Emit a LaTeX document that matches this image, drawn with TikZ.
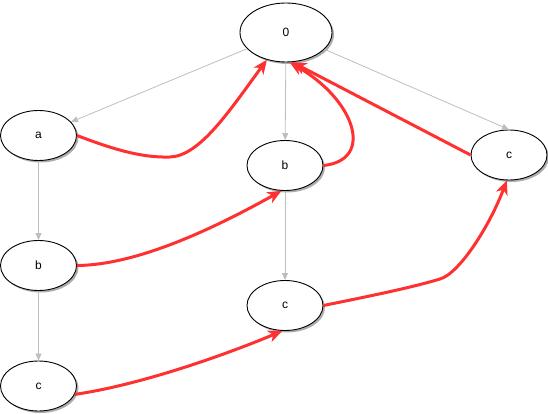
\documentclass[tikz,border=0pt]{standalone}
\usepackage{fontspec}
\setmainfont{Liberation Sans}
\usetikzlibrary{arrows.meta,shadows,shapes.geometric}
\definecolor{redline}{RGB}{255,48,48}
\definecolor{greyline}{RGB}{190,190,190}
\begin{document}
\begin{tikzpicture}[x=1pt,y=-1pt,
  ell/.style={ellipse, draw=black, line width=0.9pt, fill=white, inner sep=0pt,
    minimum width=76pt, minimum height=50pt, font=\fontsize{12}{14}\selectfont,
    drop shadow={shadow xshift=2pt, shadow yshift=-2pt, fill=black!40, opacity=0.8}},
  tree/.style={draw=greyline, line width=0.8pt, -{Triangle[length=7pt,width=6pt,fill=greyline]}},
  back/.style={draw=redline, line width=3pt, -{Stealth[length=14pt,width=12pt,inset=4pt]}}]
\useasboundingbox (0,0) rectangle (548,414);
\node[ell, minimum width=92pt, minimum height=59pt] (n0) at (286,32.5) {0};
\node[ell] (a)  at (38.5,135.5) {a};
\node[ell] (bm) at (285,165.5) {b};
\node[ell] (cr) at (509,155) {c};
\node[ell] (bl) at (38.5,265.5) {b};
\node[ell] (cm) at (285,305.5) {c};
\node[ell] (cb) at (38.5,386) {c};
% tree edges
\draw[tree] (n0) -- (a);
\draw[tree] (n0) -- (bm);
\draw[tree] (n0) -- (cr.north);
\draw[tree] (a) -- (bl);
\draw[tree] (bl) -- (cb);
\draw[tree] (bm) -- (cm);
% back edges
\draw[back] (a.east) .. controls (110,148) and (140,158) .. (170,157)
   .. controls (200,156) and (230,110) .. (n0.235);
\draw[back] (bm.east) .. controls (375,160) and (355,100) .. (n0.277);
\draw[back] (cr.west) -- (n0.282);
\draw[back] (bl.east) .. controls (140,265) and (220,225) .. (bm.262);
\draw[back] (cb.-13) .. controls (140,385) and (225,355) .. (cm.264);
\draw[back] (cm.east) .. controls (370,296) and (410,288) .. (440,279)
   .. controls (460,273) and (490,225) .. (cr.265);
\end{tikzpicture}
\end{document}
